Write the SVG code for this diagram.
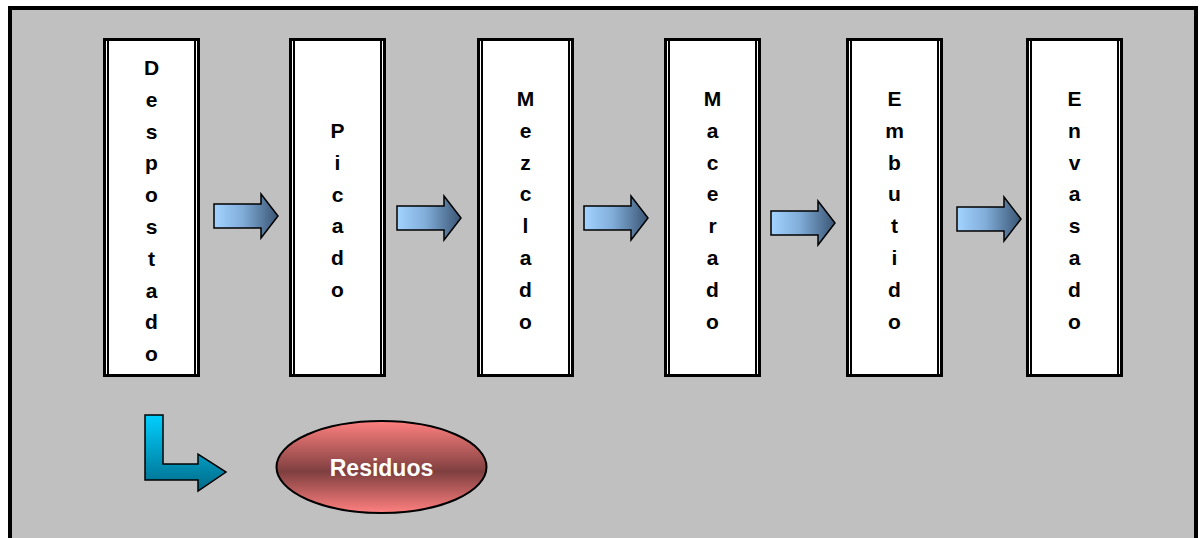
<svg xmlns="http://www.w3.org/2000/svg" width="1201" height="538" viewBox="0 0 1201 538">
<defs>
<linearGradient id="gArrow" x1="0" y1="0" x2="1" y2="0">
<stop offset="0" stop-color="#a3d3ff"/>
<stop offset="0.45" stop-color="#80acd8"/>
<stop offset="1" stop-color="#3a5573"/>
</linearGradient>
<linearGradient id="gBent" x1="0" y1="0" x2="0" y2="1">
<stop offset="0" stop-color="#00cfff"/>
<stop offset="1" stop-color="#006a88"/>
</linearGradient>
<linearGradient id="gRes" x1="0" y1="0" x2="0" y2="1">
<stop offset="0" stop-color="#ff8080"/>
<stop offset="0.55" stop-color="#7f3f3f"/>
<stop offset="1" stop-color="#ff8080"/>
</linearGradient>
</defs>
<style>
.frame{fill:#c0c0c0;stroke:#000;stroke-width:4}
.box{fill:#fff;stroke:#000;stroke-width:3}
.inner{stroke:#000;stroke-width:2}
.lbl{font-family:"Liberation Sans",Arial,sans-serif;font-weight:bold;font-size:21px;fill:#000;text-anchor:middle}
.arr{fill:url(#gArrow);stroke:#000;stroke-width:1.5;stroke-linejoin:miter}
.bent{fill:url(#gBent);stroke:#000;stroke-width:1.5}
.res{fill:url(#gRes);stroke:#000;stroke-width:2}
.reslbl{font-family:"Liberation Sans",Arial,sans-serif;font-weight:bold;font-size:23px;fill:#fff;text-anchor:middle}
</style>
<rect class="frame" x="10" y="8" width="1186" height="545"/>

<g id="despostado">
<rect class="box" x="104.5" y="39.5" width="94" height="336"/>
<line class="inner" x1="108" y1="41" x2="108" y2="374"/>
<line class="inner" x1="195" y1="41" x2="195" y2="374"/>
<text class="lbl" y="75"><tspan x="151.5">D</tspan><tspan x="151.5" dy="31.8">e</tspan><tspan x="151.5" dy="31.8">s</tspan><tspan x="151.5" dy="31.8">p</tspan><tspan x="151.5" dy="31.8">o</tspan><tspan x="151.5" dy="31.8">s</tspan><tspan x="151.5" dy="31.8">t</tspan><tspan x="151.5" dy="31.8">a</tspan><tspan x="151.5" dy="31.8">d</tspan><tspan x="151.5" dy="31.8">o</tspan></text>
</g>

<g id="picado">
<rect class="box" x="290.5" y="39.5" width="94" height="336"/>
<line class="inner" x1="294" y1="41" x2="294" y2="374"/>
<line class="inner" x1="381" y1="41" x2="381" y2="374"/>
<text class="lbl" y="138"><tspan x="337.5">P</tspan><tspan x="337.5" dy="31.8">i</tspan><tspan x="337.5" dy="31.8">c</tspan><tspan x="337.5" dy="31.8">a</tspan><tspan x="337.5" dy="31.8">d</tspan><tspan x="337.5" dy="31.8">o</tspan></text>
</g>

<g id="mezclado">
<rect class="box" x="478.5" y="39.5" width="94" height="336"/>
<line class="inner" x1="482" y1="41" x2="482" y2="374"/>
<line class="inner" x1="569" y1="41" x2="569" y2="374"/>
<text class="lbl" y="106"><tspan x="525.5">M</tspan><tspan x="525.5" dy="31.8">e</tspan><tspan x="525.5" dy="31.8">z</tspan><tspan x="525.5" dy="31.8">c</tspan><tspan x="525.5" dy="31.8">l</tspan><tspan x="525.5" dy="31.8">a</tspan><tspan x="525.5" dy="31.8">d</tspan><tspan x="525.5" dy="31.8">o</tspan></text>
</g>

<g id="macerado">
<rect class="box" x="665.5" y="39.5" width="94" height="336"/>
<line class="inner" x1="669" y1="41" x2="669" y2="374"/>
<line class="inner" x1="756" y1="41" x2="756" y2="374"/>
<text class="lbl" y="106"><tspan x="712.5">M</tspan><tspan x="712.5" dy="31.8">a</tspan><tspan x="712.5" dy="31.8">c</tspan><tspan x="712.5" dy="31.8">e</tspan><tspan x="712.5" dy="31.8">r</tspan><tspan x="712.5" dy="31.8">a</tspan><tspan x="712.5" dy="31.8">d</tspan><tspan x="712.5" dy="31.8">o</tspan></text>
</g>

<g id="embutido">
<rect class="box" x="847.5" y="39.5" width="94" height="336"/>
<line class="inner" x1="851" y1="41" x2="851" y2="374"/>
<line class="inner" x1="938" y1="41" x2="938" y2="374"/>
<text class="lbl" y="106"><tspan x="894.5">E</tspan><tspan x="894.5" dy="31.8">m</tspan><tspan x="894.5" dy="31.8">b</tspan><tspan x="894.5" dy="31.8">u</tspan><tspan x="894.5" dy="31.8">t</tspan><tspan x="894.5" dy="31.8">i</tspan><tspan x="894.5" dy="31.8">d</tspan><tspan x="894.5" dy="31.8">o</tspan></text>
</g>

<g id="envasado">
<rect class="box" x="1027.5" y="39.5" width="94" height="336"/>
<line class="inner" x1="1031" y1="41" x2="1031" y2="374"/>
<line class="inner" x1="1118" y1="41" x2="1118" y2="374"/>
<text class="lbl" y="106"><tspan x="1074.5">E</tspan><tspan x="1074.5" dy="31.8">n</tspan><tspan x="1074.5" dy="31.8">v</tspan><tspan x="1074.5" dy="31.8">a</tspan><tspan x="1074.5" dy="31.8">s</tspan><tspan x="1074.5" dy="31.8">a</tspan><tspan x="1074.5" dy="31.8">d</tspan><tspan x="1074.5" dy="31.8">o</tspan></text>
</g>

<g id="residuos">
<ellipse class="res" cx="381.5" cy="467" rx="105" ry="46"/>
<text class="reslbl" x="381.5" y="476">Residuos</text>
</g>

<g id="connectors">
<path class="arr" d="M214,204 H261 V194 L278,216 L261,238 V228 H214 Z"/>
<path class="arr" d="M397,206 H444 V196 L461,218 L444,240 V230 H397 Z"/>
<path class="arr" d="M584,206 H631 V196 L648,218 L631,240 V230 H584 Z"/>
<path class="arr" d="M771,211 H818 V201 L835,223 L818,245 V235 H771 Z"/>
<path class="arr" d="M957,207 H1004 V197 L1021,219 L1004,241 V231 H957 Z"/>
<path class="bent" d="M145,415 H163 V464 H198 V454 L226,472 L198,491 V480 H145 Z"/>
</g>
</svg>
